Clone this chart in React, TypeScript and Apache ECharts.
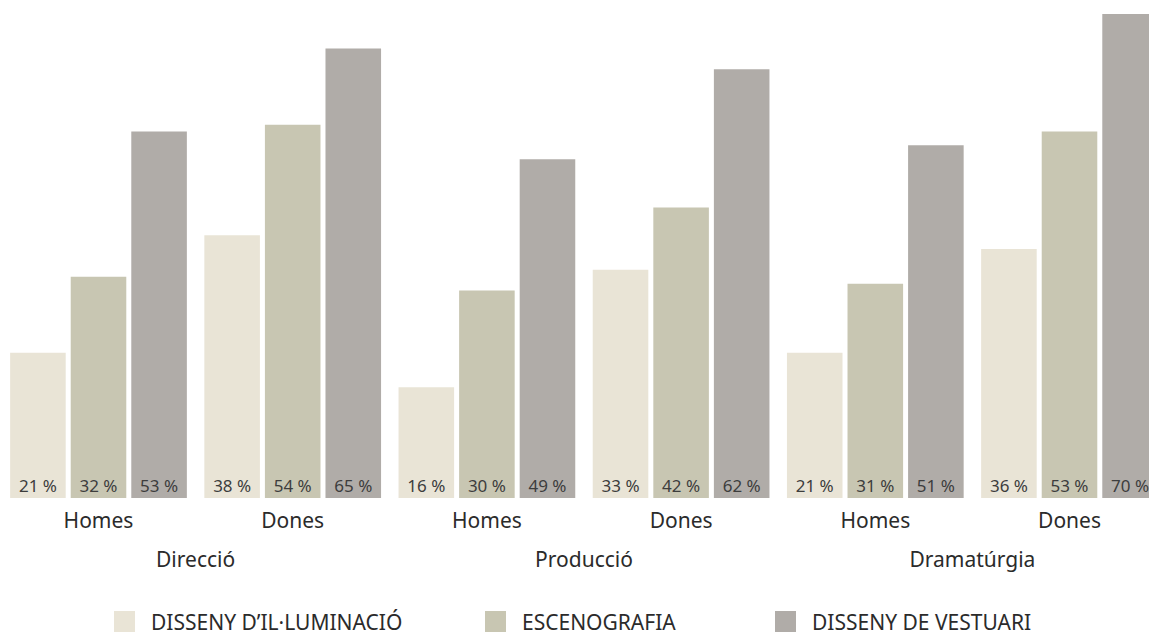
import React, { useEffect, useRef } from "react";
import * as echarts from "echarts";

const subCategories = ["Homes", "Dones", "Homes", "Dones", "Homes", "Dones"];
const mainCategories = ["Direcció", "Producció", "Dramatúrgia"];
const seriesNames = ["DISSENY D’IL·LUMINACIÓ", "ESCENOGRAFIA", "DISSENY DE VESTUARI"];
const illuminacio = [21, 38, 16, 33, 21, 36];
const escenografia = [32, 54, 30, 42, 31, 53];
const vestuari = [53, 65, 49, 62, 51, 70];
const colors = ["#E9E4D6", "#C8C6B2", "#B0ACA8"];

const FONT = "Noto Sans";
const TEXT = "#2b2b2b";

export default function App() {
  const ref = useRef<HTMLDivElement>(null);
  useEffect(() => {
    if (!ref.current) return;
    const chart = echarts.init(ref.current, undefined, { renderer: "svg" });
    const values = [illuminacio, escenografia, vestuari];
    const legendLefts = [114, 485, 775];
    chart.setOption({
      animation: false,
      grid: { left: 1.4, width: 1165.2, top: 14, bottom: 136 },
      legend: seriesNames.map((n, i) => ({
        data: [n],
        left: legendLefts[i],
        top: 611,
        padding: 0,
        itemWidth: 21,
        itemHeight: 21,
        icon: "rect",
        textStyle: { fontFamily: FONT, fontSize: 21, color: TEXT, padding: [0, 0, 0, 11] },
        selectedMode: false,
      })),
      xAxis: [
        {
          type: "category",
          data: subCategories,
          axisLine: { show: false },
          axisTick: { show: false },
          axisLabel: { fontFamily: FONT, fontSize: 21, color: TEXT, margin: 11 },
        },
        {
          type: "category",
          data: mainCategories,
          position: "bottom",
          axisLine: { show: false },
          axisTick: { show: false },
          axisLabel: { fontFamily: FONT, fontSize: 21, color: TEXT, margin: 50 },
        },
      ],
      yAxis: { type: "value", min: 0, max: 70, show: false, splitLine: { show: false } },
      series: seriesNames.map((n, i) => ({
        name: n,
        type: "bar",
        xAxisIndex: 0,
        data: values[i],
        barGap: "9%",
        barCategoryGap: "9%",
        itemStyle: { color: colors[i] },
        label: {
          show: true,
          position: "insideBottom",
          distance: 4,
          formatter: (p: any) => `${p.value} %`,
          fontFamily: FONT,
          fontSize: 17,
          color: "#3d3d3d",
        },
      })),
    });
    return () => chart.dispose();
  }, []);
  return (
    <div style={{ position: "fixed", left: 0, top: 0, width: 1149, height: 634, overflow: "hidden", background: "#fff" }}>
      <div ref={ref} style={{ width: 1180, height: 634 }} />
    </div>
  );
}
